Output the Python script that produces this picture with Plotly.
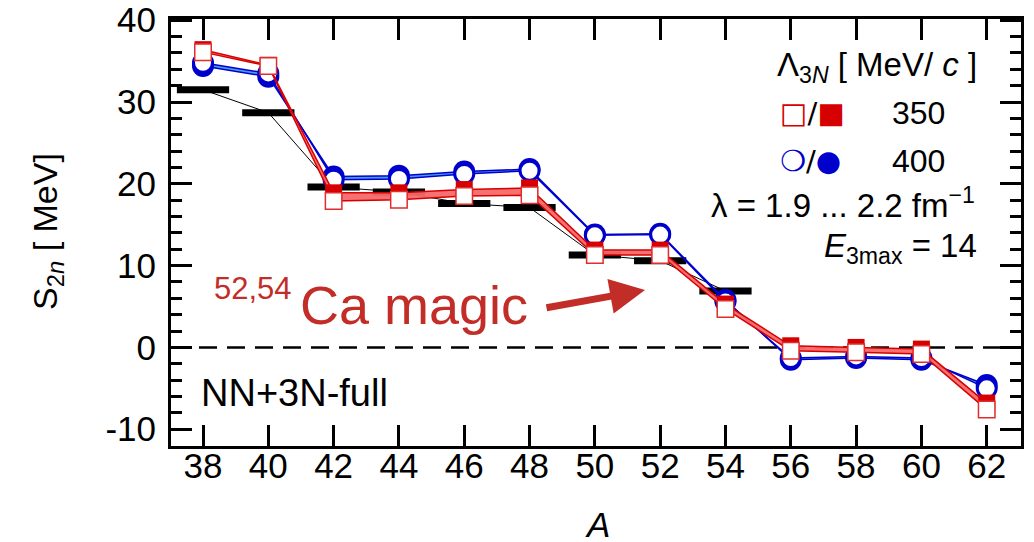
import plotly.graph_objects as go

# ---- data ----
A = [38, 40, 42, 44, 46, 48, 50, 52, 54, 56, 58, 60, 62]
exp_A = [38, 40, 42, 44, 46, 48, 50, 52, 54]
exp_S2n = [31.5, 28.7, 19.6, 19.0, 17.6, 17.1, 11.3, 10.6, 6.9]
red_open = [36.1, 34.4, 17.9, 18.05, 18.5, 18.6, 11.3, 11.3, 4.7, -0.4, -0.6, -0.8, -7.6]
red_filled = [36.4, 34.5, 18.9, 18.9, 19.3, 19.5, 11.9, 11.9, 5.3, 0.2, 0.0, -0.2, -6.8]
blue_open = [34.8, 33.5, 20.5, 20.6, 21.2, 21.6, 13.7, 13.8, 5.6, -1.3, -1.1, -1.3, -5.0]
blue_filled = [34.4, 33.1, 20.9, 21.0, 21.5, 21.8, 13.8, 13.9, 5.8, -1.5, -1.3, -1.5, -4.6]
bar_half = 0.8

x_ticks = list(range(38, 63, 2))
y_ticks = [-10, 0, 10, 20, 30, 40]

RED = "rgb(215,0,0)"
RED_OPEN = "rgb(225,45,45)"
RED_FILL = "rgba(245,105,105,0.95)"
BLUE = "rgb(0,0,205)"
BLUE_FILL = "rgba(60,150,240,0.95)"
FONT = "Liberation Sans"

fig = go.Figure()

# experiment: thin connecting line
fig.add_trace(go.Scatter(x=exp_A, y=exp_S2n, mode="lines",
                         line=dict(color="black", width=1), showlegend=False))
# experiment: horizontal bars
bx, by = [], []
for a, s in zip(exp_A, exp_S2n):
    bx += [a - bar_half, a + bar_half, None]
    by += [s, s, None]
fig.add_trace(go.Scatter(x=bx, y=by, mode="lines",
                         line=dict(color="black", width=7), showlegend=False))

# blue band (400 MeV)
fig.add_trace(go.Scatter(x=A, y=blue_filled, mode="lines",
                         line=dict(color=BLUE, width=1.5), showlegend=False))
fig.add_trace(go.Scatter(x=A, y=blue_open, mode="lines", fill="tonexty",
                         fillcolor=BLUE_FILL, line=dict(color=BLUE, width=1.5),
                         showlegend=False))
fig.add_trace(go.Scatter(x=A, y=blue_filled, mode="markers",
                         marker=dict(symbol="circle", size=22, color=BLUE,
                                     line=dict(color=BLUE, width=0)),
                         showlegend=False))
fig.add_trace(go.Scatter(x=A, y=blue_open, mode="markers",
                         marker=dict(symbol="circle", size=19, color="white",
                                     line=dict(color=BLUE, width=3)),
                         showlegend=False))

# red band (350 MeV)
fig.add_trace(go.Scatter(x=A, y=red_filled, mode="lines",
                         line=dict(color=RED, width=1.5), showlegend=False))
fig.add_trace(go.Scatter(x=A, y=red_open, mode="lines", fill="tonexty",
                         fillcolor=RED_FILL, line=dict(color=RED, width=1.5),
                         showlegend=False))
fig.add_trace(go.Scatter(x=A, y=red_filled, mode="markers",
                         marker=dict(symbol="square", size=17, color=RED,
                                     line=dict(color=RED, width=0)),
                         showlegend=False))
fig.add_trace(go.Scatter(x=A, y=red_open, mode="markers",
                         marker=dict(symbol="square", size=16.5, color="white",
                                     line=dict(color=RED_OPEN, width=1.5)),
                         showlegend=False))

# dashed zero line
fig.add_shape(type="line", xref="paper", yref="y", x0=0, x1=1, y0=0, y1=0,
              line=dict(color="black", width=2.5, dash="18px,10px"), layer="below")

axis_common = dict(showline=True, linecolor="black", linewidth=3, mirror="allticks",
                   ticks="inside", tickcolor="black", tickwidth=2.5, ticklen=21,
                   showgrid=False, zeroline=False, automargin=False,
                   ticklabeloverflow="allow",
                   tickfont=dict(family=FONT, size=35, color="black"))

fig.update_xaxes(range=[37.02, 63.05], tickmode="array", tickvals=x_ticks,
                 ticktext=[str(v) for v in x_ticks], ticklabelstandoff=-13,
                 **axis_common)
fig.update_yaxes(range=[-12.05, 40.15], tickmode="array", tickvals=y_ticks,
                 ticktext=[str(v) for v in y_ticks], ticklabelstandoff=5,
                 minor=dict(dtick=2, ticks="inside", ticklen=11, tickwidth=2.5,
                            tickcolor="black", showgrid=False),
                 **axis_common)

# page pixel -> paper coords (page has an 8px body offset)
PL, PR, PT, PB = 171, 1021, 19, 446
def P(px, py):
    return (px - PL) / (PR - PL), (PB - py) / (PB - PT)

ann = []
# axis titles
x0, y0 = P(47, 232)
ann.append(dict(xref="paper", yref="paper", x=x0, y=y0, xanchor="center", yanchor="middle",
                text="S<sub>2<i>n</i></sub> [ MeV]", textangle=-90, showarrow=False,
                font=dict(family=FONT, size=34, color="black")))
x0, y0 = P(597, 524)
ann.append(dict(xref="paper", yref="paper", x=x0, y=y0, xanchor="center", yanchor="middle",
                text="<i>A</i>", showarrow=False,
                font=dict(family=FONT, size=35, color="black")))

# legend-like text block
x0, y0 = P(979, 67)
ann.append(dict(xref="paper", yref="paper", x=x0, y=y0, xanchor="right", yanchor="middle",
                text="Λ<sub>3<i>N</i></sub> [ MeV/ <i>c</i> ]", showarrow=False,
                font=dict(family=FONT, size=33, color="black")))
x0, y0 = P(812, 113)
ann.append(dict(xref="paper", yref="paper", x=x0, y=y0, xanchor="center", yanchor="middle",
                text="<span style='color:rgb(215,0,0)'>□</span>/<span style='color:rgb(215,0,0)'>■</span>",
                showarrow=False, font=dict(family="DejaVu Sans", size=29, color="black")))
x0, y0 = P(947, 113)
ann.append(dict(xref="paper", yref="paper", x=x0, y=y0, xanchor="right", yanchor="middle",
                text="350", showarrow=False, font=dict(family=FONT, size=32, color="black")))
x0, y0 = P(810, 161)
ann.append(dict(xref="paper", yref="paper", x=x0, y=y0, xanchor="center", yanchor="middle",
                text="<span style='color:rgb(0,0,205)'>❍</span>/<span style='color:rgb(0,0,205)'>●</span>",
                showarrow=False, font=dict(family="DejaVu Sans", size=29, color="black")))
x0, y0 = P(947, 161)
ann.append(dict(xref="paper", yref="paper", x=x0, y=y0, xanchor="right", yanchor="middle",
                text="400", showarrow=False, font=dict(family=FONT, size=32, color="black")))
x0, y0 = P(977, 203)
ann.append(dict(xref="paper", yref="paper", x=x0, y=y0, xanchor="right", yanchor="middle",
                text="λ = 1.9 ... 2.2 fm<sup>−1</sup>", showarrow=False,
                font=dict(family=FONT, size=33, color="black")))
x0, y0 = P(979, 248)
ann.append(dict(xref="paper", yref="paper", x=x0, y=y0, xanchor="right", yanchor="middle",
                text="<i>E</i><sub>3max</sub> = 14", showarrow=False,
                font=dict(family=FONT, size=33, color="black")))

# NN+3N-full
x0, y0 = P(199, 393)
ann.append(dict(xref="paper", yref="paper", x=x0, y=y0, xanchor="left", yanchor="middle",
                text="NN+3N-full", showarrow=False,
                font=dict(family=FONT, size=38, color="black")))

# 52,54Ca magic
CA_RED = "rgb(195,45,40)"
x0, y0 = P(212, 288)
ann.append(dict(xref="paper", yref="paper", x=x0, y=y0, xanchor="left", yanchor="middle",
                text="52,54", showarrow=False, font=dict(family=FONT, size=31, color=CA_RED)))
x0, y0 = P(298, 305)
ann.append(dict(xref="paper", yref="paper", x=x0, y=y0, xanchor="left", yanchor="middle",
                text="Ca magic", showarrow=False, font=dict(family=FONT, size=54, color=CA_RED)))
# arrow (head position in paper coords, tail as pixel offset)
hx, hy = P(645, 290)
ann.append(dict(xref="paper", yref="paper", x=hx, y=hy, ax=545 - 645, ay=308 - 290,
                text="", showarrow=True, arrowhead=2, arrowsize=1,
                arrowwidth=7, arrowcolor=CA_RED, standoff=0))

OFF = 8  # default body margin of the html page
fig.update_layout(width=1034, height=542,
                  margin=dict(l=PL - OFF, r=1034 - (PR - OFF), t=PT - OFF, b=542 - (PB - OFF)),
                  plot_bgcolor="white", paper_bgcolor="white", showlegend=False,
                  annotations=ann, font=dict(family=FONT))

fig.write_html("out.html")
